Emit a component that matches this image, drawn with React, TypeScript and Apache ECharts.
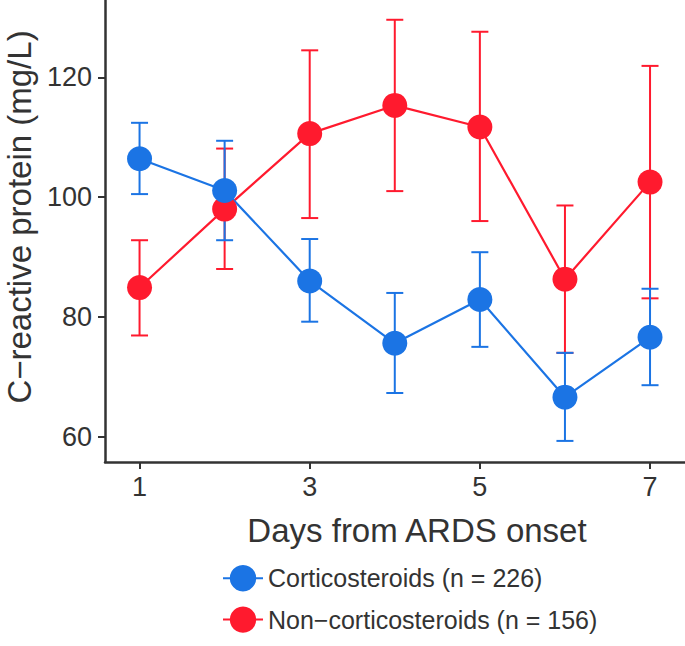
import React, { useEffect, useRef } from "react";
import * as echarts from "echarts";

const days = [1, 2, 3, 4, 5, 6, 7];
const xTicks = [1, 3, 5, 7];
const yTicks = [60, 80, 100, 120];

const cortName = "Corticosteroids (n = 226)";
const nonName = "Non\u2212corticosteroids (n = 156)";

const cortMean = [106.4, 101.1, 86.0, 75.6, 82.9, 66.6, 76.6];
const cortLow = [100.5, 92.8, 79.2, 67.3, 75.0, 59.3, 68.6];
const cortHigh = [112.4, 109.4, 93.0, 84.0, 90.8, 74.0, 84.7];

const nonMean = [84.9, 98.0, 110.6, 115.3, 111.7, 86.3, 102.5];
const nonLow = [76.9, 88.0, 96.5, 101.0, 96.0, 74.0, 83.1];
const nonHigh = [92.8, 108.1, 124.5, 129.6, 127.6, 98.6, 121.9];

const BLUE = "#1B74E4";
const RED = "#FF1A2E";
const TEXT = "#333333";
const FONT = "'Liberation Sans', Arial, Helvetica, sans-serif";

function errSeries(name: string, lows: number[], highs: number[], color: string) {
  return {
    type: "custom",
    name,
    z: 1,
    encode: { x: 0, y: [1, 2] },
    data: days.map((d, i) => [d, lows[i], highs[i]]),
    renderItem: (params: any, api: any) => {
      const x = api.value(0);
      const lo = api.coord([x, api.value(1)]);
      const hi = api.coord([x, api.value(2)]);
      const hw = 8.5;
      const style = { stroke: color, lineWidth: 2 };
      return {
        type: "group",
        children: [
          { type: "line", shape: { x1: lo[0], y1: lo[1], x2: hi[0], y2: hi[1] }, style },
          { type: "line", shape: { x1: lo[0] - hw, y1: lo[1], x2: lo[0] + hw, y2: lo[1] }, style },
          { type: "line", shape: { x1: hi[0] - hw, y1: hi[1], x2: hi[0] + hw, y2: hi[1] }, style },
        ],
      };
    },
  };
}

function lineSeries(name: string, values: number[], color: string) {
  return {
    type: "line",
    name,
    z: 3,
    data: days.map((d, i) => [d, values[i]]),
    symbol: "circle",
    symbolSize: 25,
    showAllSymbol: true,
    itemStyle: { color },
    lineStyle: { color, width: 2.2 },
  };
}

export default function App() {
  const ref = useRef<HTMLDivElement>(null);
  useEffect(() => {
    if (!ref.current) return;
    const chart = echarts.init(ref.current, undefined, { renderer: "svg" });
    const axisCommon = {
      type: "value",
      splitLine: { show: false },
      axisLine: { show: true, lineStyle: { color: TEXT, width: 2.5 } },
      axisTick: { show: true, length: 7, lineStyle: { color: TEXT, width: 2 } },
    };
    chart.setOption({
      animation: false,
      backgroundColor: "#ffffff",
      textStyle: { fontFamily: FONT },
      grid: { left: 105, right: 0, top: 0, bottom: 184 },
      xAxis: {
        ...axisCommon,
        min: 0.594,
        max: 7.411,
        axisTick: { ...axisCommon.axisTick, customValues: xTicks },
        axisLabel: { customValues: xTicks, fontSize: 27, color: TEXT, margin: 11, fontFamily: FONT },
      },
      yAxis: {
        ...axisCommon,
        min: 55.78,
        max: 132.9,
        axisTick: { ...axisCommon.axisTick, customValues: yTicks },
        axisLabel: { customValues: yTicks, fontSize: 27, color: TEXT, margin: 13, fontFamily: FONT },
      },
      legend: {
        orient: "vertical",
        left: 222,
        top: 565,
        padding: 0,
        itemWidth: 40,
        itemHeight: 33,
        itemGap: 15,
        data: [cortName, nonName],
        textStyle: { fontSize: 25, color: TEXT, fontFamily: FONT },
      },
      graphic: [
        {
          type: "text",
          x: 19,
          y: 217,
          rotation: Math.PI / 2,
          style: {
            text: "C\u2212reactive protein (mg/L)",
            fontSize: 33,
            fontFamily: FONT,
            fill: TEXT,
            textAlign: "center",
            textVerticalAlign: "middle",
          },
        },
        {
          type: "text",
          x: 417,
          y: 530,
          style: {
            text: "Days from ARDS onset",
            fontSize: 33,
            fontFamily: FONT,
            fill: TEXT,
            textAlign: "center",
            textVerticalAlign: "middle",
          },
        },
      ],
      series: [
        errSeries("err-non", nonLow, nonHigh, RED),
        errSeries("err-cort", cortLow, cortHigh, BLUE),
        lineSeries(nonName, nonMean, RED),
        lineSeries(cortName, cortMean, BLUE),
      ],
    });
    return () => chart.dispose();
  }, []);
  return (
    <div
      ref={ref}
      style={{ position: "fixed", left: 0, top: 0, width: 685, height: 646, background: "#fff" }}
    />
  );
}
